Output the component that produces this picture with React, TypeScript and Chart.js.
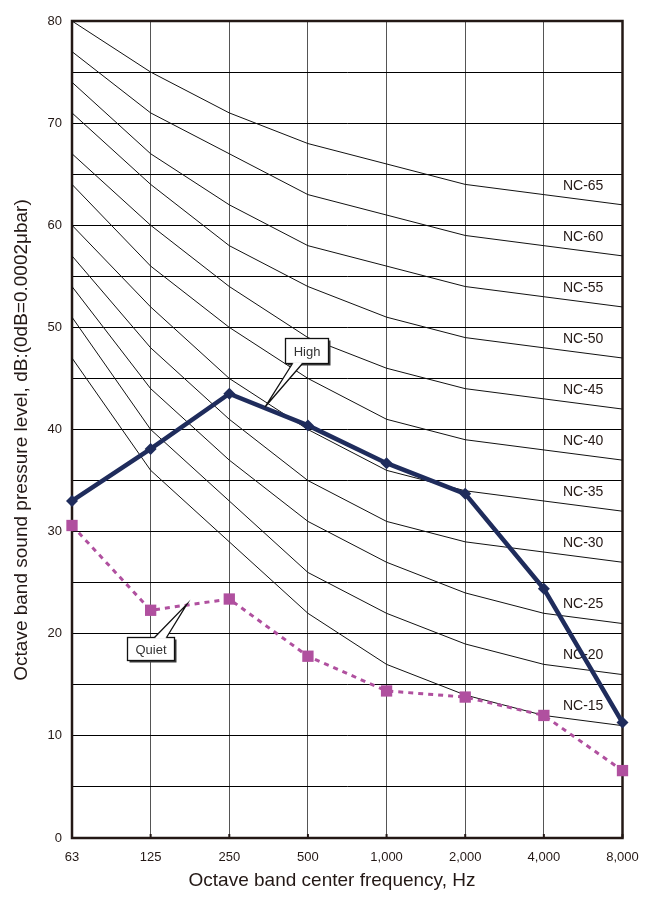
import React, { useEffect, useRef } from 'react';
import { Chart, registerables } from 'chart.js';

Chart.register(...registerables);

// ---- data ----
const freqLabels = ['63', '125', '250', '500', '1,000', '2,000', '4,000', '8,000'];
const highLevels = [33.0, 38.1, 43.5, 40.4, 36.7, 33.7, 24.4, 11.3];
const quietLevels = [30.6, 22.3, 23.4, 17.8, 14.4, 13.8, 12.0, 6.6];

const nc65 = [80, 75, 71, 68, 66, 64, 63, 62];
const nc60 = [77, 71, 67, 63, 61, 59, 58, 57];
const nc55 = [74, 67, 62, 58, 56, 54, 53, 52];
const nc50 = [71, 64, 58, 54, 51, 49, 48, 47];
const nc45 = [67, 60, 54, 49, 46, 44, 43, 42];
const nc40 = [64, 56, 50, 45, 41, 39, 38, 37];
const nc35 = [60, 52, 45, 40, 36, 34, 33, 32];
const nc30 = [57, 48, 41, 35, 31, 29, 28, 27];
const nc25 = [54, 44, 37, 31, 27, 24, 22, 21];
const nc20 = [51, 40, 33, 26, 22, 19, 17, 16];
const nc15 = [47, 36, 29, 22, 17, 14, 12, 11];

const ncNames = ['NC-65', 'NC-60', 'NC-55', 'NC-50', 'NC-45', 'NC-40', 'NC-35', 'NC-30', 'NC-25', 'NC-20', 'NC-15'];
const ncCurves = [nc65, nc60, nc55, nc50, nc45, nc40, nc35, nc30, nc25, nc20, nc15];

const yMin = 0;
const yMax = 80;
const yGridStep = 5;
const yLabelStep = 10;

const xTitle = 'Octave band center frequency, Hz';
const yTitle = 'Octave band sound pressure level, dB:(0dB=0.0002\u03bcbar)';

// callouts: text, box centre (x index, y value), pointer tip (x index, y value)
const calloutHigh = { text: 'High', box: [2.98, 47.75], tip: [2.454, 42.2] };
const calloutQuiet = { text: 'Quiet', box: [1.0, 18.56], tip: [1.462, 22.9] };

const FONT = '"Liberation Sans", Arial, Helvetica, sans-serif';
const INK = '#231815';

const toPts = (arr: number[]) => arr.map((v, i) => ({ x: i, y: v }));

function drawCallout(ctx: CanvasRenderingContext2D, chart: any, c: any, w: number, h: number, baseOff: [number, number], baseOnTop: boolean) {
  const { x, y } = chart.scales;
  const cx = x.getPixelForValue(c.box[0]);
  const cy = y.getPixelForValue(c.box[1]);
  const bx = Math.round(cx - w / 2) + 0.5;
  const by = Math.round(cy - h / 2) + 0.5;
  const tx = x.getPixelForValue(c.tip[0]);
  const ty = y.getPixelForValue(c.tip[1]);
  const edgeY = baseOnTop ? by : by + h;
  const b1 = bx + baseOff[0];
  const b2 = bx + baseOff[1];
  ctx.save();
  // shadow
  ctx.fillStyle = '#3a3a3a';
  ctx.fillRect(bx + 2, by + 2, w, h);
  // box
  ctx.fillStyle = '#ffffff';
  ctx.strokeStyle = '#111111';
  ctx.lineWidth = 1.3;
  ctx.fillRect(bx, by, w, h);
  ctx.strokeRect(bx, by, w, h);
  // pointer
  ctx.beginPath();
  ctx.moveTo(b1, edgeY);
  ctx.lineTo(tx, ty);
  ctx.lineTo(b2, edgeY);
  ctx.closePath();
  ctx.fill();
  ctx.fillRect(b1 + 0.8, edgeY - 1.2, b2 - b1 - 1.6, 2.4);
  ctx.beginPath();
  ctx.moveTo(b1, edgeY);
  ctx.lineTo(tx, ty);
  ctx.lineTo(b2, edgeY);
  ctx.stroke();
  // text
  ctx.fillStyle = '#333333';
  ctx.font = `13px ${FONT}`;
  ctx.textAlign = 'center';
  ctx.textBaseline = 'middle';
  ctx.fillText(c.text, bx + w / 2, by + h / 2 + 1);
  ctx.restore();
}

const overlayPlugin = {
  id: 'overlay',
  beforeDatasetsDraw(chart: any) {
    const { ctx, chartArea: a, scales } = chart;
    const { x, y } = scales;
    ctx.save();
    // NC labels
    ctx.font = `14px ${FONT}`;
    ctx.fillStyle = INK;
    ctx.textAlign = 'center';
    ctx.textBaseline = 'middle';
    ncCurves.forEach((vals, i) => {
      const n = vals.length;
      const mid = (vals[n - 2] + vals[n - 1]) / 2;
      ctx.fillText(ncNames[i], x.getPixelForValue(n - 1.5), y.getPixelForValue(mid) - 14);
    });
    // frame
    ctx.strokeStyle = INK;
    ctx.lineWidth = 2.5;
    ctx.strokeRect(a.left, a.top, a.right - a.left, a.bottom - a.top);
    // small inner ticks on the bottom axis
    ctx.lineWidth = 2;
    freqLabels.forEach((_, i) => {
      const px = x.getPixelForValue(i);
      ctx.beginPath();
      ctx.moveTo(px, a.bottom);
      ctx.lineTo(px, a.bottom - 4);
      ctx.stroke();
    });
    ctx.restore();
  },
  afterDatasetsDraw(chart: any) {
    const { ctx } = chart;
    drawCallout(ctx, chart, calloutHigh, 43, 25, [7, 17], false);
    drawCallout(ctx, chart, calloutQuiet, 47, 23, [27, 39], true);
  },
  afterDraw(chart: any) {
    const { ctx } = chart;
    ctx.save();
    ctx.fillStyle = INK;
    ctx.font = `19px ${FONT}`;
    ctx.textAlign = 'center';
    ctx.textBaseline = 'middle';
    ctx.fillText(xTitle, 332, 881);
    ctx.translate(22, 440);
    ctx.rotate(-Math.PI / 2);
    ctx.fillText(yTitle, 0, 0);
    ctx.restore();
  },
};

export default function App() {
  const ref = useRef<HTMLCanvasElement | null>(null);

  useEffect(() => {
    if (!ref.current) return;
    const ncSets = ncCurves.map((vals, i) => ({
      label: ncNames[i],
      data: toPts(vals),
      borderColor: '#111111',
      borderWidth: 1,
      pointRadius: 0,
      fill: false,
      tension: 0,
    }));
    const chart = new Chart(ref.current, {
      type: 'line',
      data: {
        datasets: [
          {
            label: 'High',
            data: toPts(highLevels),
            borderColor: '#1f2c5c',
            backgroundColor: '#1f2c5c',
            borderWidth: 4.5,
            pointStyle: 'rectRot',
            pointRadius: 6,
            pointBorderWidth: 0,
            borderJoinStyle: 'miter',
            clip: false,
            tension: 0,
          },
          {
            label: 'Quiet',
            data: toPts(quietLevels),
            borderColor: '#b0509f',
            backgroundColor: '#b0509f',
            borderWidth: 3,
            borderDash: [5, 5],
            pointStyle: 'rect',
            pointRadius: 8,
            pointBorderWidth: 0,
            clip: false,
            tension: 0,
          },
          ...ncSets,
        ],
      } as any,
      plugins: [overlayPlugin],
      options: {
        responsive: false,
        animation: false,
        events: [],
        layout: { padding: { left: 0, right: 22.5, top: 21, bottom: 0 } },
        plugins: { legend: { display: false }, tooltip: { enabled: false } },
        scales: {
          x: {
            type: 'linear',
            min: 0,
            max: freqLabels.length - 1,
            border: { display: false },
            grid: { color: '#555555', lineWidth: 1, drawTicks: false },
            ticks: {
              stepSize: 1,
              autoSkip: false,
              maxRotation: 0,
              padding: 12,
              color: INK,
              font: { family: FONT, size: 13 },
              callback: (v: any) => freqLabels[Math.round(Number(v))] ?? '',
            },
            afterFit: (s: any) => {
              s.height = 62;
              s.paddingLeft = 0;
              s.paddingRight = 0;
            },
          },
          y: {
            type: 'linear',
            min: yMin,
            max: yMax,
            border: { display: false },
            grid: { color: '#000000', lineWidth: 1, drawTicks: false },
            ticks: {
              stepSize: yGridStep,
              padding: 10,
              color: INK,
              font: { family: FONT, size: 13 },
              callback: (v: any) => (Number(v) % yLabelStep === 0 ? String(v) : ''),
            },
            afterFit: (s: any) => {
              s.width = 72;
              s.paddingTop = 0;
              s.paddingBottom = 0;
            },
          },
        },
      } as any,
    });
    return () => chart.destroy();
  }, []);

  return (
    <div style={{ position: 'fixed', left: 0, top: 0, width: 645, height: 900, background: '#ffffff' }}>
      <canvas ref={ref} width={645} height={900} style={{ display: 'block' }} />
    </div>
  );
}
